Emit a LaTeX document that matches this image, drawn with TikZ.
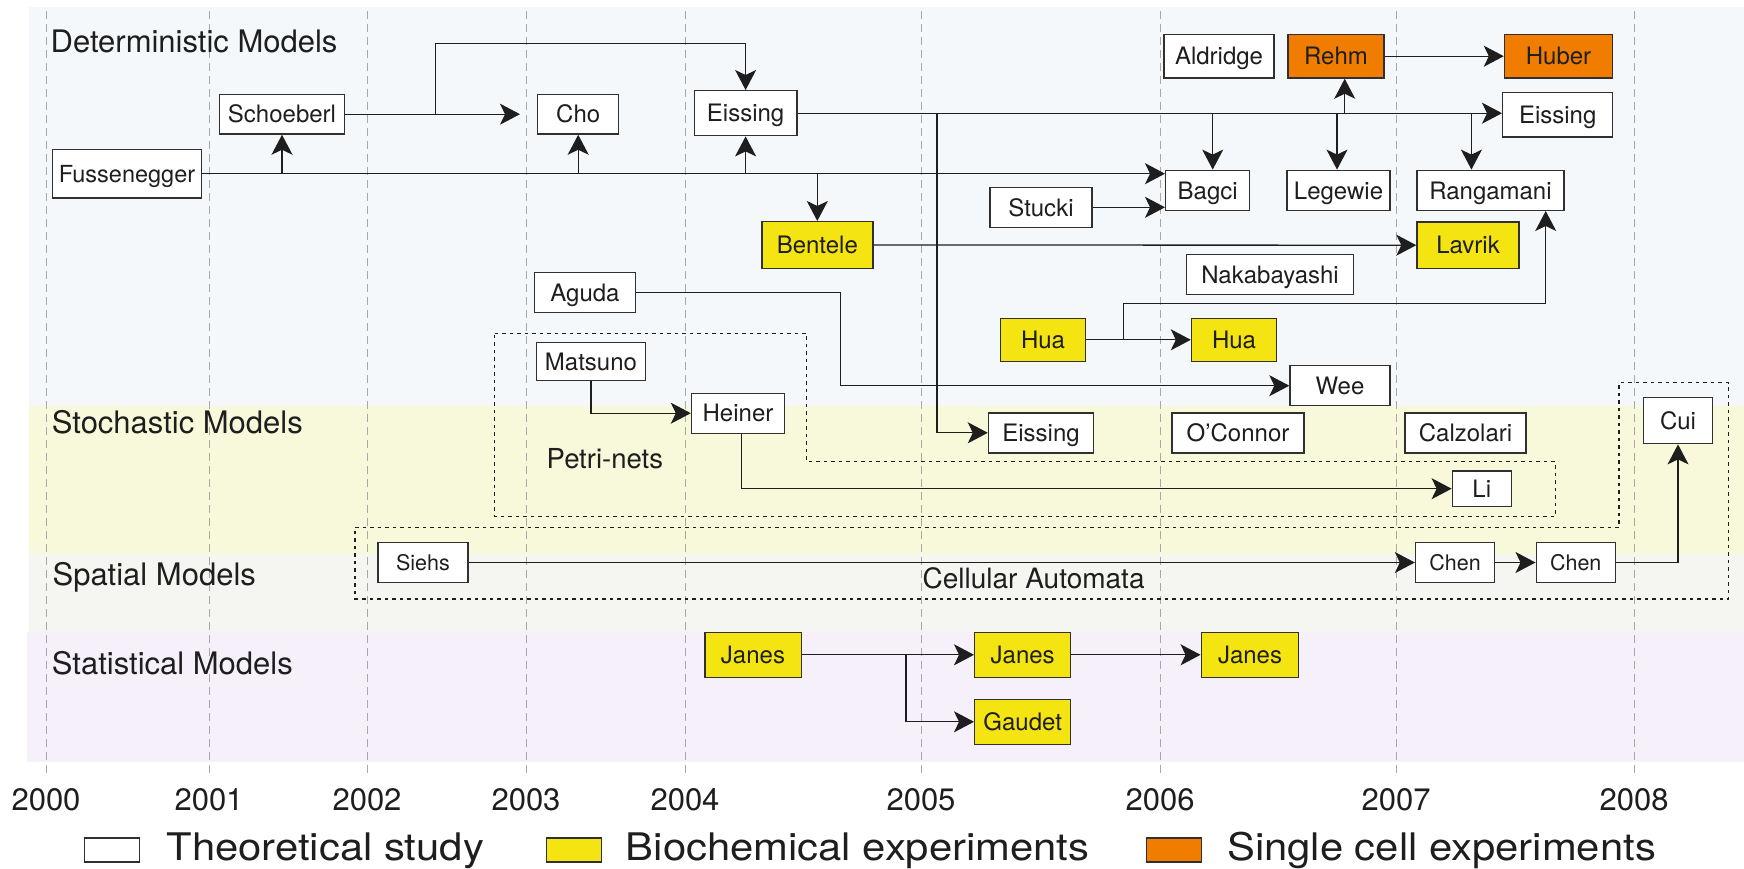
\documentclass[tikz,border=0pt]{standalone}
\usepackage{fontspec}
\setmainfont{TeX Gyre Heros}
\newfontfamily\keyfont[FakeStretch=1.1]{TeX Gyre Heros}
\usetikzlibrary{arrows.meta}

\definecolor{detbg}{HTML}{F5F8FA}
\definecolor{stobg}{HTML}{F8F8DA}
\definecolor{spabg}{HTML}{F5F5F1}
\definecolor{stabg}{HTML}{F5F0FA}
\definecolor{biofill}{HTML}{F4E411}
\definecolor{cellfill}{HTML}{F07D00}
\definecolor{gridgray}{HTML}{A8A8A8}
\definecolor{ink}{HTML}{1E1E1E}
\definecolor{edge}{HTML}{303030}

\tikzset{
  paper/.style={draw=edge, line width=1.4pt, fill=white, inner sep=0pt,
    text height=17.5pt, text depth=0pt, text=ink,
    font=\fontsize{24}{28}\selectfont},
  bio/.style={paper, fill=biofill},
  cell/.style={paper, fill=cellfill},
  smalltext/.style={font=\fontsize{21.5}{26}\selectfont, text height=15.5pt},
  link/.style={draw=ink, line width=1.3pt},
  arr/.style={link, -{Stealth[length=20pt,width=21pt,inset=5pt]}},
  yeargrid/.style={draw=gridgray, line width=1pt, dash pattern=on 8pt off 5pt},
  group/.style={draw=ink, line width=1.3pt, dash pattern=on 3.5pt off 4pt},
  bandlabel/.style={font=\fontsize{31}{36}\selectfont, text=ink, anchor=base west, inner sep=0pt},
  grouplabel/.style={font=\fontsize{27.5}{32}\selectfont, text=ink, anchor=base west, inner sep=0pt},
  yearlabel/.style={font=\fontsize{31}{36}\selectfont, text=ink, anchor=base, inner sep=0pt},
  legendlabel/.style={font=\keyfont\fontsize{38}{44}\selectfont, text=ink, anchor=base west, inner sep=0pt},
}

\begin{document}
\begin{tikzpicture}[x=1pt, y=-1pt]
\useasboundingbox (0,0) rectangle (1744,869);

% model bands
\fill[detbg] (29,7) rectangle (1744,406);
\fill[stobg] (29,406) rectangle (1744,554);
\fill[spabg] (29,554) rectangle (1744,632);
\fill[stabg] (27,632) rectangle (1744,762);

% year grid
\foreach \gx in {46,209,367,526,685,921,1160,1396,1634}
  \draw[yeargrid] (\gx,11) -- (\gx,773);

% year labels
\node[yearlabel] (y2000) at (46,810) {2000};
\node[yearlabel] (y2001) at (209,810) {2001};
\node[yearlabel] (y2002) at (367,810) {2002};
\node[yearlabel] (y2003) at (526,810) {2003};
\node[yearlabel] (y2004) at (685,810) {2004};
\node[yearlabel] (y2005) at (921,810) {2005};
\node[yearlabel] (y2006) at (1160,810) {2006};
\node[yearlabel] (y2007) at (1396,810) {2007};
\node[yearlabel] (y2008) at (1634,810) {2008};

% band titles
\node[bandlabel] (tdet) at (50.5,52.3) {Deterministic Models};
\node[bandlabel] (tsto) at (51.7,433.5) {Stochastic Models};
\node[bandlabel] (tspa) at (52.4,585.5) {Spatial Models};
\node[bandlabel] (tsta) at (51.7,674.5) {Statistical Models};

% model families
\draw[group] (494.8,333.3) -- (806.8,333.3) -- (806.8,461.7) -- (1555.2,461.7)
  -- (1555.2,516.7) -- (494.8,516.7) -- cycle;
\draw[group] (355.1,527.3) -- (1619.1,527.3) -- (1619.1,382.7) -- (1728.6,382.7)
  -- (1728.6,599) -- (355.1,599) -- cycle;
\node[grouplabel] (petri) at (546.5,468.3) {Petri-nets};
\node[grouplabel, font=\fontsize{28}{32}\selectfont] (cauto) at (922.4,588.3) {Cellular Automata};

% studies
\node[paper, minimum width=149pt, minimum height=48.7pt, font=\fontsize{23.5}{28}\selectfont] (fus) at (127,173.7) {Fussenegger};
\node[paper, minimum width=125.5pt, minimum height=39.7pt] (schoe) at (282,114.2) {Schoeberl};
\node[paper, minimum width=81pt, minimum height=39.7pt] (cho) at (578.2,114.2) {Cho};
\node[paper, minimum width=102.6pt, minimum height=45pt] (eis1) at (745.6,113.2) {Eissing};
\node[bio, minimum width=111pt, minimum height=46.6pt] (bentele) at (817.3,245) {Bentele};
\node[paper, minimum width=102pt, minimum height=40pt] (stucki) at (1041,207.3) {Stucki};
\node[paper, minimum width=110pt, minimum height=43.7pt] (aldridge) at (1219,56.2) {Aldridge};
\node[cell, minimum width=96pt, minimum height=43.7pt] (rehm) at (1336,56.2) {Rehm};
\node[cell, minimum width=108pt, minimum height=43.7pt] (huber) at (1558.5,56.2) {Huber};
\node[paper, minimum width=110pt, minimum height=44.7pt] (eis2) at (1557.7,114.7) {Eissing};
\node[paper, minimum width=84pt, minimum height=40pt] (bagci) at (1207.7,190.3) {Bagci};
\node[paper, minimum width=103pt, minimum height=40pt] (legewie) at (1338.5,190.3) {Legewie};
\node[paper, minimum width=147pt, minimum height=40pt] (rang) at (1490.5,190.3) {Rangamani};
\node[bio, minimum width=102pt, minimum height=46.3pt] (lavrik) at (1468,245.2) {Lavrik};
\node[paper, minimum width=166.5pt, minimum height=40pt] (naka) at (1270,274.3) {Nakabayashi};
\node[paper, minimum width=100.8pt, minimum height=39.6pt] (aguda) at (585,292.5) {Aguda};
\node[bio, minimum width=85pt, minimum height=43pt] (hua1) at (1043,339.8) {Hua};
\node[bio, minimum width=85pt, minimum height=43pt] (hua2) at (1234,339.8) {Hua};
\node[paper, minimum width=100pt, minimum height=40pt] (wee) at (1340,385.7) {Wee};
\node[paper, minimum width=109.5pt, minimum height=38pt] (mats) at (591,361.7) {Matsuno};
\node[paper, minimum width=93pt, minimum height=40pt] (heiner) at (738,413.2) {Heiner};
\node[paper, minimum width=105pt, minimum height=40pt] (eis3) at (1041,432.8) {Eissing};
\node[paper, minimum width=132pt, minimum height=40pt] (oconnor) at (1238,432.8) {O’Connor};
\node[paper, minimum width=121pt, minimum height=40pt] (calz) at (1465.5,432.8) {Calzolari};
\node[paper, minimum width=59pt, minimum height=35.3pt] (li) at (1481.8,488.7) {Li};
\node[paper, minimum width=69pt, minimum height=46.4pt] (cui) at (1678,420.5) {Cui};
\node[paper, smalltext, minimum width=90pt, minimum height=40pt] (siehs) at (423,562.5) {Siehs};
\node[paper, smalltext, minimum width=79pt, minimum height=40pt] (chen1) at (1455,562.5) {Chen};
\node[paper, smalltext, minimum width=79pt, minimum height=40pt] (chen2) at (1575.7,562.5) {Chen};
\node[bio, minimum width=96.4pt, minimum height=45pt] (janes1) at (753,654.8) {Janes};
\node[bio, minimum width=96pt, minimum height=45pt] (janes2) at (1022.7,654.8) {Janes};
\node[bio, minimum width=97.5pt, minimum height=45pt] (janes3) at (1250,654.8) {Janes};
\node[bio, minimum width=96pt, minimum height=45pt] (gaudet) at (1022.7,721.8) {Gaudet};

% branch points
\coordinate (sfork) at (435.5,0);
\coordinate (stop) at (435.5,43.7);
\coordinate (evert) at (937,0);
\coordinate (bgx) at (1212.7,0);
\coordinate (lgx) at (1337,0);
\coordinate (rhx) at (1344.7,0);
\coordinate (rgx) at (1471.4,0);
\coordinate (agx) at (840.5,0);
\coordinate (hfork) at (1123.7,303.3);
\coordinate (hturn) at (1545.7,303.3);
\coordinate (hx) at (741.8,0);
\coordinate (jx) at (906,0);

% Fussenegger line and its branches
\draw[arr] (fus.east) -- (fus.east -| bagci.west);
\draw[arr] (fus.east -| schoe.south) -- (schoe.south);
\draw[arr] (fus.east -| cho.south) -- (cho.south);
\draw[arr] (fus.east -| eis1.south) -- (eis1.south);
\draw[arr] (fus.east -| bentele.north) -- (bentele.north);

% Schoeberl line
\draw[arr, shorten >=17pt] (schoe.east) -- (schoe.east -| cho.west);
\draw[arr] (sfork |- schoe.east) -- (stop) -| (eis1.north);

% Eissing line and its branches
\draw[arr] (eis1.east) -- (eis1.east -| eis2.west);
\draw[arr] (evert |- eis1.east) |- (eis3.west);
\draw[arr] (bgx |- eis1.east) -- (bgx |- bagci.north);
\draw[arr] (lgx |- eis1.east) -- (lgx |- legewie.north);
\draw[arr] (rhx |- eis1.east) -- (rhx |- rehm.south);
\draw[arr] (rgx |- eis1.east) -- (rgx |- rang.north);

% remaining deterministic links
\draw[arr] (rehm.east) -- (huber.west);
\draw[arr] (stucki.east) -- (stucki.east -| bagci.west);
\draw[arr] (bentele.east) -- (lavrik.west);
\draw[arr] (aguda.east) -| (agx |- wee.west) -- (wee.west);
\draw[arr] (hua1.east) -- (hua2.west);
\draw[link] (hfork |- hua1.east) -- (hfork) -- (hturn);
\draw[arr] (hturn) -- (hturn |- rang.south);

% Petri-net links
\draw[arr] (mats.south) |- (heiner.west);
\draw[arr] (hx |- heiner.south) |- (li.west);

% cellular automata links
\draw[arr] (siehs.east) -- (siehs.east -| chen1.west);
\draw[arr] (chen1.east) -- (chen2.west);
\draw[arr] (chen2.east) -| (cui.south);

% statistical links
\draw[arr] (janes1.east) -- (janes2.west);
\draw[arr] (jx |- janes1.east) |- (gaudet.west);
\draw[arr] (janes2.east) -- (janes3.west);

% legend
\node[paper, minimum width=55pt, minimum height=24pt] (keyth) at (111.7,850) {};
\node[legendlabel] (keythtxt) at (166.5,860) {Theoretical study};
\node[bio, minimum width=55pt, minimum height=24pt] (keybio) at (573.8,850) {};
\node[legendlabel] (keybiotxt) at (625.7,860) {Biochemical experiments};
\node[cell, minimum width=55pt, minimum height=24pt] (keycell) at (1173.9,850) {};
\node[legendlabel] (keycelltxt) at (1227,860) {Single cell experiments};
\end{tikzpicture}
\end{document}
